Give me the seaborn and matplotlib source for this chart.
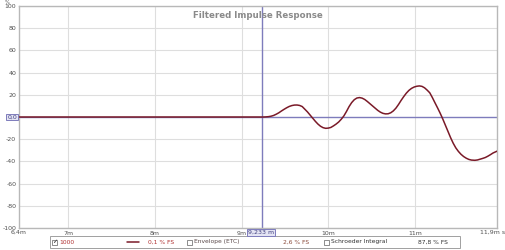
import matplotlib
matplotlib.use("Agg")
import matplotlib.pyplot as plt
import seaborn as sns
import pandas as pd
from matplotlib.patches import Rectangle

# ---- data ----
distance_m = [6.435, 9.0, 9.25, 9.28, 9.31, 9.34, 9.37, 9.40, 9.43, 9.46, 9.49, 9.52,
              9.55, 9.58, 9.61, 9.64, 9.67, 9.70, 9.73, 9.76, 9.79, 9.82, 9.85, 9.88,
              9.91, 9.94, 9.97, 10.00, 10.03, 10.06, 10.09, 10.12, 10.15, 10.18, 10.21,
              10.24, 10.27, 10.30, 10.33, 10.36, 10.39, 10.42, 10.45, 10.48, 10.51, 10.54,
              10.57, 10.60, 10.63, 10.66, 10.69, 10.72, 10.75, 10.78, 10.81, 10.84, 10.87,
              10.90, 10.93, 10.96, 10.99, 11.02, 11.05, 11.08, 11.11, 11.14, 11.17, 11.20,
              11.23, 11.26, 11.29, 11.32, 11.35, 11.38, 11.41, 11.44, 11.47, 11.50, 11.53,
              11.56, 11.59, 11.62, 11.65, 11.69, 11.72, 11.75, 11.78, 11.81, 11.84, 11.87,
              11.90, 11.945]
response_pct = [0, 0, 0, 0.1, 0.3, 0.7, 1.4, 2.5, 3.8, 5.4, 6.9, 8.3,
                9.5, 10.3, 10.75, 10.8, 10.4, 9.4, 7.0, 4.6, 1.8, -1.0, -3.8, -6.3,
                -8.3, -9.6, -10.2, -10.0, -9.4, -8.0, -6.4, -4.5, -2.0, 1.0, 5.0,
                9.4, 13.0, 15.6, 17.1, 17.5, 17.0, 15.8, 14.0, 12.0, 10.0, 8.0,
                6.0, 4.4, 3.3, 2.8, 2.9, 3.8, 5.5, 8.0, 11.3, 15.0, 18.4,
                21.5, 24.0, 25.8, 27.0, 27.7, 28.0, 27.6, 26.3, 24.2, 21.8, 17.5,
                12.8, 8.2, 3.4, -1.8, -7.4, -13.0, -18.6, -23.6, -27.8, -31.0, -33.6,
                -35.6, -37.1, -38.2, -38.8, -39.0, -38.7, -38.0, -37.3, -36.5, -35.3, -33.9,
                -32.4, -30.8]
x_ticks = [7, 8, 9, 10, 11]
x_tick_labels = ["7m", "8m", "9m", "10m", "11m"]
y_ticks = [-100, -80, -60, -40, -20, 20, 40, 60, 80, 100]
cursor_x = 9.233
cursor_y = 0.0
title = "Filtered Impulse Response"

df = pd.DataFrame({"distance": distance_m, "response": response_pct})

sns.set_theme(style="whitegrid")
plt.rcParams['font.family'] = ['DejaVu Sans']

fig = plt.figure(figsize=(5.06, 2.5), dpi=100)
ax = fig.add_axes([19/506, 1-228/250, (497-19)/506, (228-6)/250])

cursor_col = "#7e7cbc"
line_col = "#7a1a28"
grid_col = "#dedede"
txt_col = "#505050"

ax.axhline(cursor_y, color=cursor_col, lw=1.0, zorder=2)
ax.axvline(cursor_x, color=cursor_col, lw=1.0, zorder=2)
sns.lineplot(data=df, x="distance", y="response", ax=ax, color=line_col, lw=1.1, zorder=3)

ax.set_xlim(6.435, 11.945)
ax.set_ylim(-100, 100)
ax.set_xticks(x_ticks)
ax.set_xticklabels(x_tick_labels)
ax.set_yticks(y_ticks)
ax.set_yticklabels([str(v) for v in y_ticks])
ax.tick_params(axis="both", labelsize=4.5, colors=txt_col, length=0, pad=2)
ax.grid(True, color=grid_col, lw=0.8)
ax.set_xlabel("")
ax.set_ylabel("")
for s in ax.spines.values():
    s.set_color("#b8b8b8")
    s.set_linewidth(1.0)

ax.set_title(title, fontsize=6.2, fontweight="bold", color="#8a8a8a", pad=-9, y=1.0)

# corner labels
fig.text(5/506, 1-0/250, "%", fontsize=3.8, color=txt_col, va="top")
fig.text(19/506, 1-232/250, "6,4m", fontsize=4.5, color=txt_col, ha="center", va="center")
fig.text(493/506, 1-232/250, "11,9m s", fontsize=4.5, color=txt_col, ha="center", va="center")

bbox = dict(boxstyle="square,pad=0.15", fc="#e4e4f4", ec=cursor_col, lw=0.7)
ax.text(-0.004, cursor_y, "0,0", transform=ax.get_yaxis_transform(), fontsize=4.5,
        color="#404080", ha="right", va="center", bbox=bbox)
fig.text(261/506, 1-232.5/250, "9,233 m", fontsize=4.5,
         color="#404080", ha="center", va="center", bbox=bbox)

# legend bar
fig.patches.append(Rectangle((50/506, 1-248/250), (460-50)/506, 12.5/250,
                             transform=fig.transFigure, fc="white", ec="#a0a0a0", lw=0.7,
                             zorder=0))
yl = 1-242/250
def checkbox(xpix, checked=False):
    fig.patches.append(Rectangle((xpix/506, yl-3/250), 5/506, 5.5/250,
                                 transform=fig.transFigure, fc="white", ec="#606060", lw=0.5))
    if checked:
        fig.text((xpix+2.5)/506, yl, "✓", fontsize=4.5, color="#202020", ha="center", va="center")
checkbox(52, True)
fig.text(59/506, yl, "1000", fontsize=4.3, color="#b03030", va="center")
fig.lines.append(plt.Line2D([127/506, 139/506], [yl, yl], transform=fig.transFigure,
                            color=line_col, lw=1.1))
fig.text(148/506, yl, "0,1 % FS", fontsize=4.3, color="#b03030", va="center")
checkbox(187)
fig.text(194/506, yl, "Envelope (ETC)", fontsize=4.3, color="#5a4848", va="center")
fig.text(283/506, yl, "2,6 % FS", fontsize=4.3, color="#8a4a3a", va="center")
checkbox(324)
fig.text(331/506, yl, "Schroeder Integral", fontsize=4.3, color="#303030", va="center")
fig.text(418/506, yl, "87,8 % FS", fontsize=4.3, color="#303030", va="center")

fig.savefig("out.png", dpi=100)
